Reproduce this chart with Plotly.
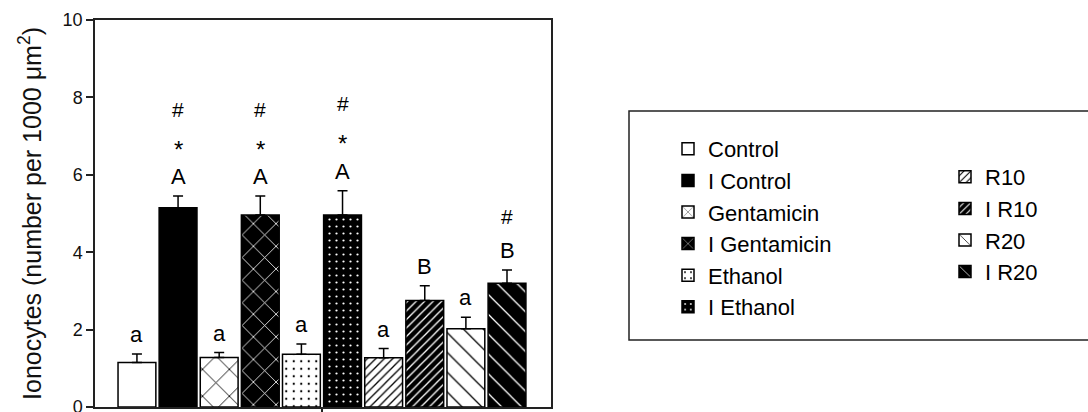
import plotly.graph_objects as go

# Group names, mean ionocyte density and SEM (number per 1000 µm²)
groups = ["Control", "I Control", "Gentamicin", "I Gentamicin", "Ethanol",
          "I Ethanol", "R10", "I R10", "R20", "I R20"]
means = [1.15, 5.15, 1.28, 4.96, 1.36, 4.96, 1.27, 2.75, 2.02, 3.20]
sems = [0.22, 0.30, 0.13, 0.49, 0.27, 0.63, 0.24, 0.38, 0.30, 0.34]

# Significance marks, from the bar upwards
letters = ["a", "A", "a", "A", "a", "A", "a", "B", "a", "B"]
stars = ["", "*", "", "*", "", "*", "", "", "", ""]
hashes = ["", "#", "", "#", "", "#", "", "", "", "#"]

y_ticks = [0, 2, 4, 6, 8, 10]

# Fill style per group: (background, pattern shape, pattern colour, size, solidity)
styles = [
    ("white", "", "black", 8, 0.3),
    ("black", "", "white", 8, 0.3),
    ("white", "x", "black", 19, 0.09),
    ("black", "x", "white", 16, 0.1),
    ("white", ".", "black", 7.5, 0.07),
    ("black", ".", "white", 7, 0.08),
    ("white", "/", "black", 6, 0.22),
    ("black", "/", "white", 6, 0.22),
    ("white", "\\", "black", 14, 0.09),
    ("black", "\\", "white", 14, 0.09),
]

FONT = "Liberation Sans, Arial, sans-serif"

fig = go.Figure()
for i, (name, m, s) in enumerate(zip(groups, means, sems)):
    bg, shape, fg, size, sol = styles[i]
    fig.add_trace(go.Bar(
        x=[name], y=[m], name=name,
        width=0.92,
        marker=dict(
            color=bg,
            line=dict(color="black", width=1.5),
            pattern=dict(shape=shape, fgcolor=fg, bgcolor=bg,
                         size=size, solidity=sol, fillmode="replace"),
        ),
        error_y=dict(type="data", symmetric=False, array=[s], arrayminus=[0],
                     color="black", thickness=1.5, width=5),
        legend="legend" if i < 6 else "legend2",
        legendgroup=name,
        showlegend=True,
    ))

# Significance symbols stacked above each error bar
for name, m, s, a, st, h in zip(groups, means, sems, letters, stars, hashes):
    base = m + s + 0.5
    marks = [(t, 22, 0) for t in (a,) if t]
    if st:
        marks.append((st, 24, -6))
    if h:
        marks.append((h, 21, 0))
    for k, (t, fs, shift) in enumerate(marks):
        fig.add_annotation(
            x=name, y=base + k * 0.87, text=t, showarrow=False,
            xref="x", yref="y", yanchor="middle", yshift=shift,
            font=dict(family=FONT, size=fs, color="black"),
        )

# Frame around the two-column legend
fig.add_shape(type="rect", xref="paper", yref="paper",
              x0=(629 - 95) / 456, x1=(1100 - 95) / 456,
              y0=(407 - 340) / 387, y1=(407 - 111) / 387,
              line=dict(color="#222", width=1.5), fillcolor="rgba(0,0,0,0)")

fig.update_layout(
    width=1088, height=412, autosize=False,
    margin=dict(l=95, r=537, t=20, b=5, autoexpand=False),
    paper_bgcolor="white", plot_bgcolor="white",
    barmode="overlay",
    font=dict(family=FONT, color="black"),
    legend=dict(x=(668 - 95) / 456, y=(407 - 128) / 387,
                xanchor="left", yanchor="top",
                bgcolor="rgba(0,0,0,0)", font=dict(size=22, family=FONT),
                tracegroupgap=5, traceorder="normal"),
    legend2=dict(x=(945 - 95) / 456, y=(407 - 156) / 387,
                 xanchor="left", yanchor="top",
                 bgcolor="rgba(0,0,0,0)", font=dict(size=22, family=FONT),
                 tracegroupgap=5, traceorder="normal"),
)

fig.update_xaxes(
    range=[-1.02, 10.07], showticklabels=False, automargin=False,
    ticks="outside", tickmode="array", tickvals=[4.5], ticklen=6,
    tickcolor="#222", tickwidth=1.5,
    showline=True, linecolor="#222", linewidth=1.5, mirror=True,
    showgrid=False, zeroline=False, fixedrange=True,
)
fig.update_yaxes(
    range=[0, 10], tickvals=y_ticks, ticks="outside", ticklen=7,
    tickcolor="#222", tickwidth=1.5, automargin=False,
    ticklabeloverflow="allow",
    tickfont=dict(size=18, family=FONT, color="#111"),
    showline=True, linecolor="#222", linewidth=1.5, mirror=True,
    showgrid=False, zeroline=False,
    title=dict(text="Ionocytes (number per 1000 μm<sup>2</sup>)",
               font=dict(size=25, family=FONT, color="#111"), standoff=14),
)

fig.write_html("out.html")
